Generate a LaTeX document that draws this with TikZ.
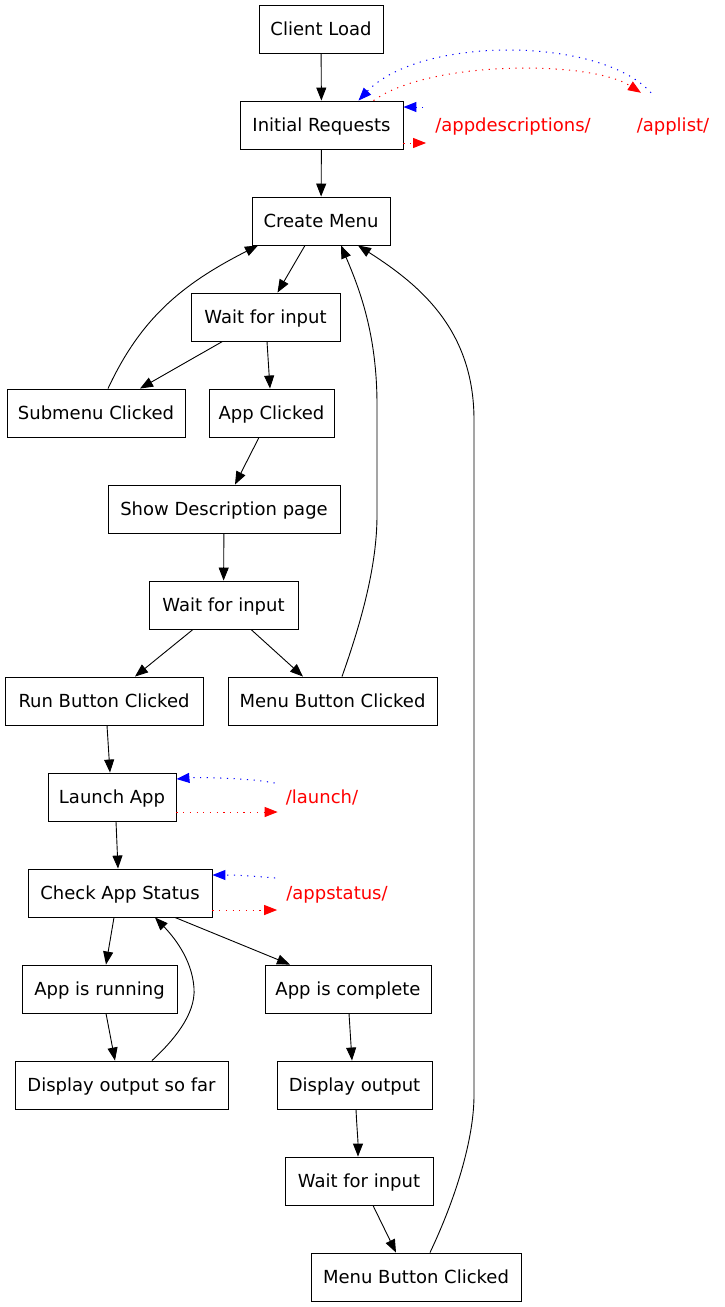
\documentclass[tikz,border=0pt]{standalone}
\usepackage{fontspec}
\setmainfont{DejaVu Sans}
\usetikzlibrary{arrows.meta,calc}
\begin{document}
\begin{tikzpicture}[x=1pt,y=-1pt,
  box/.style={draw,line width=0.9pt,minimum height=48pt,inner sep=0pt,text height=13.5pt,text depth=0.5pt,font=\fontsize{18}{20}\selectfont},
  lbl/.style={text=red,inner sep=0pt,text height=13.5pt,text depth=0.5pt,font=\fontsize{18}{20}\selectfont},
  edge/.style={line width=0.9pt,-{Triangle[length=13pt,width=10pt]}},
  rdot/.style={red,line width=1pt,dash pattern=on 1.2pt off 5.5pt,-{Triangle[length=13pt,width=10pt]}},
  bdot/.style={blue,line width=1pt,dash pattern=on 1.2pt off 5.5pt,-{Triangle[length=13pt,width=10pt]}}]
\fill[white] (0,0) rectangle (725,1307);
\useasboundingbox (0,0) rectangle (725,1307);
\node[box,minimum width=124pt] (cl) at (321,29) {Client Load};
\node[box,minimum width=163pt] (ir) at (321.5,125) {Initial Requests};
\node[box,minimum width=138pt] (cm) at (321,221) {Create Menu};
\node[box,minimum width=149pt] (w1) at (265.5,317) {Wait for input};
\node[box,minimum width=178pt] (sm) at (96,413) {Submenu Clicked};
\node[box,minimum width=125pt] (ac) at (271.5,413) {App Clicked};
\node[box,minimum width=232pt] (sd) at (224,509) {Show Description page};
\node[box,minimum width=149pt] (w2) at (223.5,605) {Wait for input};
\node[box,minimum width=198pt] (rb) at (104,701) {Run Button Clicked};
\node[box,minimum width=209pt] (mb1) at (332.5,701) {Menu Button Clicked};
\node[box,minimum width=128pt] (la) at (112,797) {Launch App};
\node[box,minimum width=184pt] (cs) at (120,893) {Check App Status};
\node[box,minimum width=155pt] (ar) at (99.5,989) {App is running};
\node[box,minimum width=166pt] (acm) at (348,989) {App is complete};
\node[box,minimum width=213pt] (dsf) at (121.5,1085) {Display output so far};
\node[box,minimum width=155pt] (do) at (354.5,1085) {Display output};
\node[box,minimum width=148pt] (w3) at (359,1181) {Wait for input};
\node[box,minimum width=210pt] (mb2) at (416,1277) {Menu Button Clicked};
\node[lbl] (lad) at (513,125) {/appdescriptions/};
\node[lbl] (lal) at (673,125) {/applist/};
\node[lbl] (lla) at (322,797) {/launch/};
\node[lbl] (las) at (337,893) {/appstatus/};
% solid edges
\draw[edge] (cl) -- (ir);
\draw[edge] (ir) -- (cm);
\draw[edge] ([xshift=-16pt]cm.south) -- ([xshift=12pt]w1.north);
\draw[edge] ([xshift=-43pt]w1.south) -- ([xshift=44pt]sm.north);
\draw[edge] ([xshift=1.5pt]w1.south) -- ([xshift=-1.5pt]ac.north);
\draw[edge] ([xshift=12pt]sm.north) .. controls (140,320) and (180,285) .. ([xshift=-63pt]cm.south);
\draw[edge] ([xshift=-12.5pt]ac.south) -- ([xshift=11pt]sd.north);
\draw[edge] (sd) -- (w2);
\draw[edge] ([xshift=-30.5pt]w2.south) -- ([xshift=31pt]rb.north);
\draw[edge] ([xshift=27.5pt]w2.south) -- ([xshift=-29.5pt]mb1.north);
\draw[edge] ([xshift=9.5pt]mb1.north) .. controls (362,620) and (377,565) .. (377,515) -- (377,405) .. controls (377,335) and (360,290) .. ([xshift=20pt]cm.south);
\draw[edge] ([xshift=3pt]rb.south) -- ([xshift=-2pt]la.north);
\draw[edge] ([xshift=4pt]la.south) -- ([xshift=-2pt]cs.north);
\draw[edge] ([xshift=-6pt]cs.south) -- ([xshift=6.5pt]ar.north);
\draw[edge] ([xshift=55pt]cs.south) -- ([xshift=-58pt]acm.north);
\draw[edge] ([xshift=6.5pt]ar.south) -- ([xshift=-6.5pt]dsf.north);
\draw[edge] ([xshift=30.5pt]dsf.north) .. controls (172,1042) and (196,1015) .. (194,988) .. controls (192,958) and (172,935) .. ([xshift=35pt]cs.south);
\draw[edge] ([xshift=1pt]acm.south) -- ([xshift=-2.5pt]do.north);
\draw[edge] ([xshift=1.5pt]do.south) .. controls (357,1130) and (358,1140) .. ([xshift=-1pt]w3.north);
\draw[edge] ([xshift=14pt]w3.south) -- ([xshift=-20pt]mb2.north);
\draw[edge] ([xshift=14pt]mb2.north) .. controls (455,1200) and (474,1140) .. (474,1095) -- (474,420) .. controls (474,330) and (420,285) .. ([xshift=37pt]cm.south);
% dotted edges
\draw[rdot] ([yshift=-18pt]ir.east) -- ([xshift=-9pt,yshift=-18pt]lad.west);
\draw[bdot] ([xshift=-12pt,yshift=18pt]lad.west) -- ([yshift=18pt]ir.east);
\draw[rdot] ([xshift=52pt]ir.north) .. controls (430,60) and (590,60) .. ([xshift=-32pt,yshift=25pt]lal.north);
\draw[bdot] ([xshift=-22pt,yshift=25pt]lal.north) .. controls (600,36) and (420,36) .. ([xshift=37pt]ir.north);
\draw[rdot] ([yshift=-15pt]la.east) -- ([xshift=-8pt,yshift=-15pt]lla.west);
\draw[bdot] ([xshift=-11pt,yshift=14pt]lla.west) .. controls (250,778) and (200,777) .. ([yshift=18pt]la.east);
\draw[rdot] ([yshift=-17pt]cs.east) -- ([xshift=-9pt,yshift=-17pt]las.west);
\draw[bdot] ([xshift=-11pt,yshift=15pt]las.west) .. controls (255,876) and (235,875) .. ([yshift=18pt]cs.east);
\end{tikzpicture}
\end{document}
